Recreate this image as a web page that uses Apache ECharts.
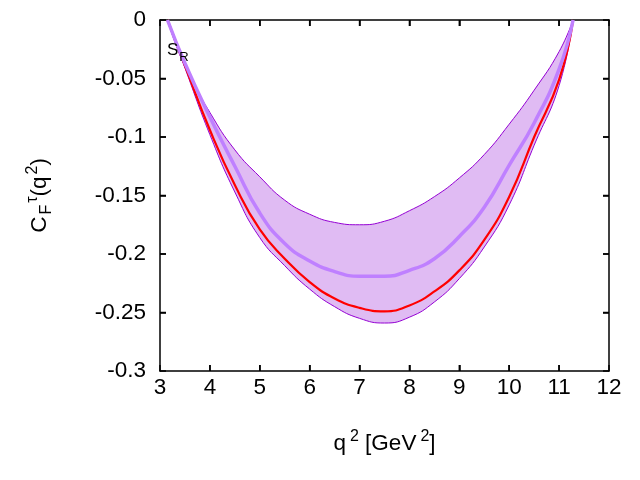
<!DOCTYPE html>
<html>
<head>
<meta charset="utf-8">
<script src="https://cdn.jsdelivr.net/npm/echarts@6/dist/echarts.min.js"></script>
<style>html,body{margin:0;padding:0;background:#fff}#c{width:640px;height:480px}</style>
</head>
<body>
<div id="c"></div>
<script>
const q2 = [3.15, 3.5, 4.0, 4.5, 5.0, 5.5, 6.0, 6.5, 7.0, 7.5, 8.0, 8.5, 9.0, 9.5, 10.0, 10.5, 11.0, 11.28];
const upperBand = [0, -0.040, -0.079, -0.111, -0.134, -0.154, -0.166, -0.173, -0.175, -0.172, -0.163, -0.151, -0.135, -0.115, -0.089, -0.060, -0.027, 0];
const lowerBand = [0, -0.041, -0.098, -0.147, -0.186, -0.210, -0.230, -0.245, -0.255, -0.259, -0.254, -0.241, -0.221, -0.194, -0.158, -0.107, -0.056, 0];
const central = [0, -0.037, -0.083, -0.125, -0.165, -0.191, -0.206, -0.215, -0.219, -0.219, -0.214, -0.204, -0.185, -0.160, -0.124, -0.088, -0.042, 0];
const redCurve = [0, -0.039, -0.094, -0.141, -0.179, -0.204, -0.224, -0.238, -0.246, -0.249, -0.244, -0.232, -0.214, -0.188, -0.151, -0.100, -0.051, 0];
const xTicks = [3, 4, 5, 6, 7, 8, 9, 10, 11, 12];
const yTicks = [-0.3, -0.25, -0.2, -0.15, -0.1, -0.05, 0];

const pair = (arr) => q2.map((x, i) => [x, arr[i]]);
const FONT = '"Liberation Sans", Arial, Helvetica, sans-serif';
const FS = 22.5;

function axisParts() {
  return {
    z: 5,
    axisLine: {show: true, onZero: false, lineStyle: {color: '#000', width: 1.5}},
    axisTick: {show: true, inside: true, length: 6, lineStyle: {color: '#000', width: 1.5}},
    splitLine: {show: false}
  };
}

const chart = echarts.init(document.getElementById('c'), null, {renderer: 'canvas'});
chart.setOption({
  animation: false,
  backgroundColor: '#fff',
  grid: {left: 160, right: 31, top: 20, bottom: 109},
  xAxis: [
    Object.assign(axisParts(), {
      type: 'value', min: 3, max: 12, interval: 1, position: 'bottom',
      axisLabel: {color: '#000', fontSize: FS, fontFamily: FONT, margin: 5,
        formatter: v => xTicks.includes(v) ? String(v) : ''},
      name: '{m|q}{s|2}{m| [GeV}{s|2}{m|]}',
      nameLocation: 'middle', nameGap: 58,
      nameTextStyle: {fontFamily: FONT, color: '#000',
        rich: {m: {fontSize: FS, fontFamily: FONT, color: '#000', lineHeight: 26, verticalAlign: 'bottom'},
               s: {fontSize: 16, fontFamily: FONT, color: '#000', lineHeight: 26, verticalAlign: 'top', padding: [0, 0, 0, 4]}}}
    }),
    Object.assign(axisParts(), {
      type: 'value', min: 3, max: 12, interval: 1, position: 'top',
      axisLabel: {show: false}
    })
  ],
  yAxis: [
    Object.assign(axisParts(), {
      type: 'value', min: -0.3, max: 0, interval: 0.05, position: 'left',
      axisLabel: {color: '#000', fontSize: FS, fontFamily: FONT, margin: 14,
        formatter: v => { const r = Math.round(v * 100) / 100; return yTicks.some(t => Math.abs(t - r) < 1e-9) ? String(r) : ''; }},
      name: '{m|C}{b|F}{t|τ}{m|(q}{t|2}{m|)}',
      nameLocation: 'middle', nameGap: 105, nameRotate: 90,
      nameTextStyle: {fontFamily: FONT, color: '#000',
        rich: {m: {fontSize: FS, fontFamily: FONT, color: '#000', lineHeight: 30, verticalAlign: 'middle'},
               b: {fontSize: 16, fontFamily: FONT, color: '#000', lineHeight: 30, verticalAlign: 'bottom', padding: [0, 0, 0, 2]},
               t: {fontSize: 16, fontFamily: FONT, color: '#000', lineHeight: 30, verticalAlign: 'top', padding: [0, 0, 0, 2]}}}
    }),
    Object.assign(axisParts(), {
      type: 'value', min: -0.3, max: 0, interval: 0.05, position: 'right',
      axisLabel: {show: false}
    })
  ],
  series: [
    {type: 'line', data: pair(lowerBand), smooth: true, symbol: 'none',
     lineStyle: {opacity: 0}, areaStyle: {color: '#e0bbf3', opacity: 1, origin: 'end'}, silent: true, z: 1},
    {type: 'line', data: pair(upperBand), smooth: true, symbol: 'none',
     lineStyle: {opacity: 0}, areaStyle: {color: '#ffffff', opacity: 1, origin: 'end'}, silent: true, z: 2},
    {type: 'line', data: pair(upperBand), smooth: true, symbol: 'none',
     lineStyle: {color: '#9400d3', width: 1}, z: 6},
    {type: 'line', data: pair(lowerBand), smooth: true, symbol: 'none',
     lineStyle: {color: '#9400d3', width: 1}, z: 6},
    {type: 'line', data: pair(redCurve), smooth: true, symbol: 'none',
     lineStyle: {color: '#ff0000', width: 2.2}, z: 7},
    {type: 'line', data: pair(central), smooth: true, symbol: 'none',
     lineStyle: {color: '#bf80ff', width: 3.5}, z: 8},
    {type: 'line', xAxisIndex: 1, yAxisIndex: 1, data: [[3, -0.3]], symbol: 'none', lineStyle: {opacity: 0}, silent: true}
  ]
});

// backup inward ticks on all four sides, positioned through the library's scales
const TL = 6;
const gfx = [];
const yTop = chart.convertToPixel({yAxisIndex: 0}, 0);
const yBot = chart.convertToPixel({yAxisIndex: 0}, -0.3);
const xLeft = chart.convertToPixel({xAxisIndex: 0}, 3);
const xRight = chart.convertToPixel({xAxisIndex: 0}, 12);
const tick = (x1, y1, x2, y2) => ({type: 'line', z: 100, shape: {x1: x1, y1: y1, x2: x2, y2: y2}, style: {stroke: '#000', lineWidth: 1.5}});
xTicks.slice(1, -1).forEach(v => {
  const px = chart.convertToPixel({xAxisIndex: 0}, v);
  gfx.push(tick(px, yBot, px, yBot - TL));
  gfx.push(tick(px, yTop, px, yTop + TL));
});
yTicks.slice(1, -1).forEach(v => {
  const py = chart.convertToPixel({yAxisIndex: 0}, v);
  gfx.push(tick(xLeft, py, xLeft + TL, py));
  gfx.push(tick(xRight, py, xRight - TL, py));
});
gfx.push({type: 'text', left: 167, top: 42, z: 100,
  style: {text: '{a|S}{b|R}', fontFamily: FONT,
    rich: {a: {fontSize: 17, fontFamily: FONT, fill: '#000', lineHeight: 20, verticalAlign: 'top'},
           b: {fontSize: 13, fontFamily: FONT, fill: '#000', lineHeight: 22, verticalAlign: 'bottom', padding: [0, 0, 0, 1]}}}});
chart.setOption({graphic: gfx});
</script>
</body>
</html>
